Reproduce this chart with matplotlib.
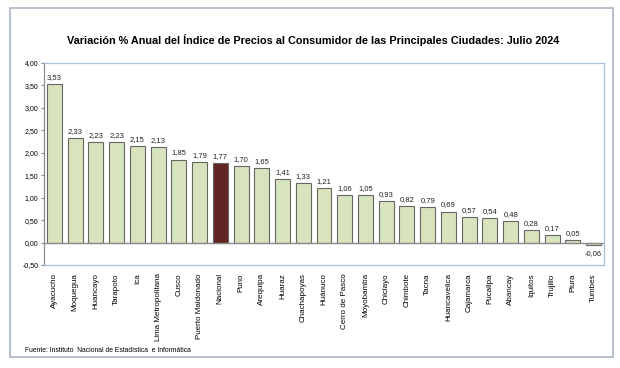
import matplotlib.pyplot as plt
from matplotlib.patches import Rectangle
from matplotlib.ticker import FuncFormatter

ciudades = ['Ayacucho', 'Moquegua', 'Huancayo', 'Tarapoto', 'Ica', 'Lima Metropolitana',
            'Cusco', 'Puerto Maldonado', 'Nacional', 'Puno', 'Arequipa', 'Huaraz',
            'Chachapoyas', 'Huánuco', 'Cerro de Pasco', 'Moyobamba', 'Chiclayo',
            'Chimbote', 'Tacna', 'Huancavelica', 'Cajamarca', 'Pucallpa', 'Abancay',
            'Iquitos', 'Trujillo', 'Piura', 'Tumbes']
variacion = [3.53, 2.33, 2.23, 2.23, 2.15, 2.13, 1.85, 1.79, 1.77, 1.70, 1.65, 1.41,
             1.33, 1.21, 1.06, 1.05, 0.93, 0.82, 0.79, 0.69, 0.57, 0.54, 0.48,
             0.28, 0.17, 0.05, -0.06]
y_ticks = [-0.5, 0, 0.5, 1, 1.5, 2, 2.5, 3, 3.5, 4]

plt.rcParams['font.family'] = ['Liberation Sans', 'DejaVu Sans']

fig = plt.figure(figsize=(6.2, 3.68), dpi=100)

# marco exterior
fig.patches.append(Rectangle((10 / 620, 1 - 357 / 368), 603 / 620, 349 / 368,
                             transform=fig.transFigure, fill=False,
                             edgecolor='#a9b5c6', linewidth=1.2))

ax = fig.add_axes([44 / 620, 1 - 265 / 368, 560 / 620, 202 / 368])

colores = ['#632523' if c == 'Nacional' else '#d7e4bd' for c in ciudades]
x = range(len(ciudades))
ax.bar(x, variacion, width=0.72, color=colores, edgecolor='#666666', linewidth=0.8)

for i, v in enumerate(variacion):
    txt = f'{v:.2f}'.replace('.', ',')
    if v >= 0:
        ax.text(i, v + 0.07, txt, ha='center', va='bottom', fontsize=5.5, color='#222222')
    else:
        ax.text(i, v - 0.1, txt, ha='center', va='top', fontsize=5.5, color='#222222')

ax.axhline(0, color='#8c8c8c', linewidth=1)
ax.set_xlim(-0.5, len(ciudades) - 0.5)
ax.set_ylim(-0.5, 4)
ax.set_yticks(y_ticks)
ax.yaxis.set_major_formatter(FuncFormatter(lambda v, p: f'{v:.2f}'.replace('.', ',')))
ax.tick_params(axis='y', labelsize=5, length=2, color='#8c8c8c', pad=2)
ax.set_xticks(list(x))
ax.set_xticklabels(ciudades, rotation=90, fontsize=5.8)
ax.tick_params(axis='x', length=0, pad=6)
for s in ax.spines.values():
    s.set_color('#a8c0de')
    s.set_linewidth(0.9)
ax.spines['left'].set_color('#8c8c8c')

fig.text(313 / 620, 1 - 40 / 368,
         'Variación % Anual del Índice de Precios al Consumidor de las Principales Ciudades: Julio 2024',
         ha='center', va='center', fontsize=7.8, fontweight='bold')
fig.text(25 / 620, 1 - 350 / 368, 'Fuente: Instituto  Nacional de Estadística  e Informática',
         ha='left', va='center', fontsize=4.9)

fig.savefig('out.png', dpi=100)
